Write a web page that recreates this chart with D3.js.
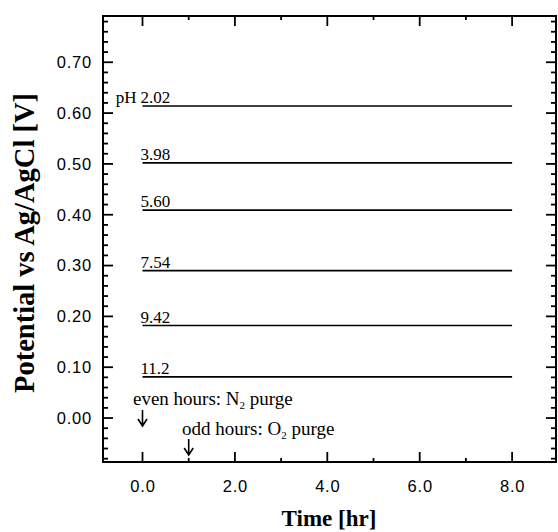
<!DOCTYPE html>
<html>
<head>
<meta charset="utf-8">
<script src="https://cdn.jsdelivr.net/npm/d3@7"></script>
<style>
  html, body { margin: 0; padding: 0; background: #fff; }
  svg { display: block; }
</style>
</head>
<body>
<svg id="chart" width="558" height="532"></svg>
<script>
// ---- data ----
const hours = [0, 1, 2, 3, 4, 5, 6, 7, 8];
const phLabels = ["2.02", "3.98", "5.60", "7.54", "9.42", "11.2"];
const pH_2_02 = [0.614, 0.614, 0.614, 0.614, 0.614, 0.614, 0.614, 0.614, 0.614];
const pH_3_98 = [0.502, 0.502, 0.502, 0.502, 0.502, 0.502, 0.502, 0.502, 0.502];
const pH_5_60 = [0.409, 0.409, 0.409, 0.409, 0.409, 0.409, 0.409, 0.409, 0.409];
const pH_7_54 = [0.290, 0.290, 0.290, 0.290, 0.290, 0.290, 0.290, 0.290, 0.290];
const pH_9_42 = [0.182, 0.182, 0.182, 0.182, 0.182, 0.182, 0.182, 0.182, 0.182];
const pH_11_2 = [0.081, 0.081, 0.081, 0.081, 0.081, 0.081, 0.081, 0.081, 0.081];
const seriesValues = [pH_2_02, pH_3_98, pH_5_60, pH_7_54, pH_9_42, pH_11_2];
const xMajorTicks = [0, 2, 4, 6, 8];
const xMinorTicks = [1, 3, 5, 7];
const yMajorTicks = [0.0, 0.1, 0.2, 0.3, 0.4, 0.5, 0.6, 0.7];
const xTitle = "Time [hr]";
const yTitle = "Potential vs Ag/AgCl [V]";

// ---- layout ----
const svg = d3.select("#chart");
const pLeft = 103, pRight = 556, pTop = 16, pBottom = 462;
const x = d3.scaleLinear().domain([-0.855, 8.95]).range([pLeft, pRight]);
const y = d3.scaleLinear().domain([-0.0865, 0.791]).range([pBottom, pTop]);

const yMinorTicks = d3.range(-8, 40).map(i => +(i * 0.02).toFixed(2))
  .filter(v => Math.round(v * 100) % 10 !== 0 && v >= -0.0865 && v <= 0.791);

const sansFont = "'Liberation Sans', Arial, sans-serif";
const serifFont = "'Liberation Serif', 'Times New Roman', serif";

function styleAxis(g) {
  g.select(".domain").remove();
  g.selectAll(".tick line").remove();
  g.selectAll(".tick text")
    .attr("fill", "#000")
    .style("font-family", sansFont)
    .style("font-size", "16.5px")
    .style("letter-spacing", "0.8px");
}

// frame
svg.append("rect")
  .attr("x", pLeft).attr("y", pTop)
  .attr("width", pRight - pLeft).attr("height", pBottom - pTop)
  .attr("fill", "none").attr("stroke", "#000").attr("stroke-width", 2);

// axis labels
svg.append("g").attr("transform", `translate(0,${pBottom})`)
  .call(d3.axisBottom(x).tickValues(xMajorTicks).tickSize(0).tickPadding(18).tickFormat(d3.format(".1f")))
  .call(styleAxis);
svg.append("g").attr("transform", `translate(${pLeft},0)`)
  .call(d3.axisLeft(y).tickValues(yMajorTicks).tickSize(0).tickPadding(11).tickFormat(d3.format(".2f")))
  .call(styleAxis);

// tick marks (inward on all four sides)
function tick(x1, y1, x2, y2) {
  svg.append("line")
    .attr("x1", x1).attr("y1", y1).attr("x2", x2).attr("y2", y2)
    .attr("stroke", "#000").attr("stroke-width", 1.8);
}
function xTicks(vals, len) {
  vals.forEach(v => {
    tick(x(v), pBottom, x(v), pBottom - len);
    tick(x(v), pTop, x(v), pTop + len);
  });
}
function yTicks(vals, len) {
  vals.forEach(v => {
    tick(pLeft, y(v), pLeft + len, y(v));
    tick(pRight, y(v), pRight - len, y(v));
  });
}
xTicks(xMajorTicks, 10);
xTicks(xMinorTicks, 4);
yTicks(yMajorTicks, 10);
yTicks(yMinorTicks, 5);

// ---- series lines ----
const lineGen = d3.line().x(d => x(d[0])).y(d => y(d[1]));
seriesValues.forEach((vals, i) => {
  const pts = hours.map((h, j) => [h, vals[j]]);
  svg.append("path").datum(pts)
    .attr("d", lineGen)
    .attr("fill", "none")
    .attr("stroke", "#000")
    .attr("stroke-width", 1.6);
  svg.append("text")
    .attr("x", x(0) - 2)
    .attr("y", y(vals[0]) - 3)
    .style("font-family", serifFont)
    .style("font-size", "17px")
    .attr("fill", "#000")
    .text(phLabels[i]);
  if (i === 0) {
    svg.append("text")
      .attr("x", x(0) - 6)
      .attr("y", y(vals[0]) - 3)
      .attr("text-anchor", "end")
      .style("font-family", serifFont)
      .style("font-size", "17px")
      .attr("fill", "#000")
      .text("pH");
  }
});

// ---- annotations ----
function annot(tx, ty, pre, sub, post) {
  const t = svg.append("text")
    .attr("x", tx).attr("y", ty)
    .style("font-family", serifFont)
    .style("font-size", "19px")
    .attr("fill", "#000");
  t.append("tspan").text(pre);
  t.append("tspan").attr("dy", 4).style("font-size", "11px").text(sub);
  t.append("tspan").attr("dy", -4).text(post);
}
annot(133, 405, "even hours: N", "2", " purge");
annot(182, 435, "odd hours: O", "2", " purge");

function arrow(ax, y1, y2) {
  svg.append("path")
    .attr("d", `M${ax},${y1}V${y2}M${ax - 4.5},${y2 - 7}L${ax},${y2}L${ax + 4.5},${y2 - 7}`)
    .attr("fill", "none").attr("stroke", "#000").attr("stroke-width", 1.6);
}
arrow(x(0), 410, 426);
arrow(x(1), 439, 455);

// ---- titles ----
svg.append("text")
  .attr("x", 329).attr("y", 526)
  .attr("text-anchor", "middle")
  .style("font-family", serifFont)
  .style("font-size", "23px")
  .style("font-weight", "bold")
  .attr("fill", "#000")
  .text(xTitle);

svg.append("text")
  .attr("transform", "translate(34,243) rotate(-90)")
  .attr("text-anchor", "middle")
  .attr("textLength", 300)
  .attr("lengthAdjust", "spacingAndGlyphs")
  .style("font-family", serifFont)
  .style("font-size", "29px")
  .style("font-weight", "bold")
  .attr("fill", "#000")
  .text(yTitle);
</script>
</body>
</html>
